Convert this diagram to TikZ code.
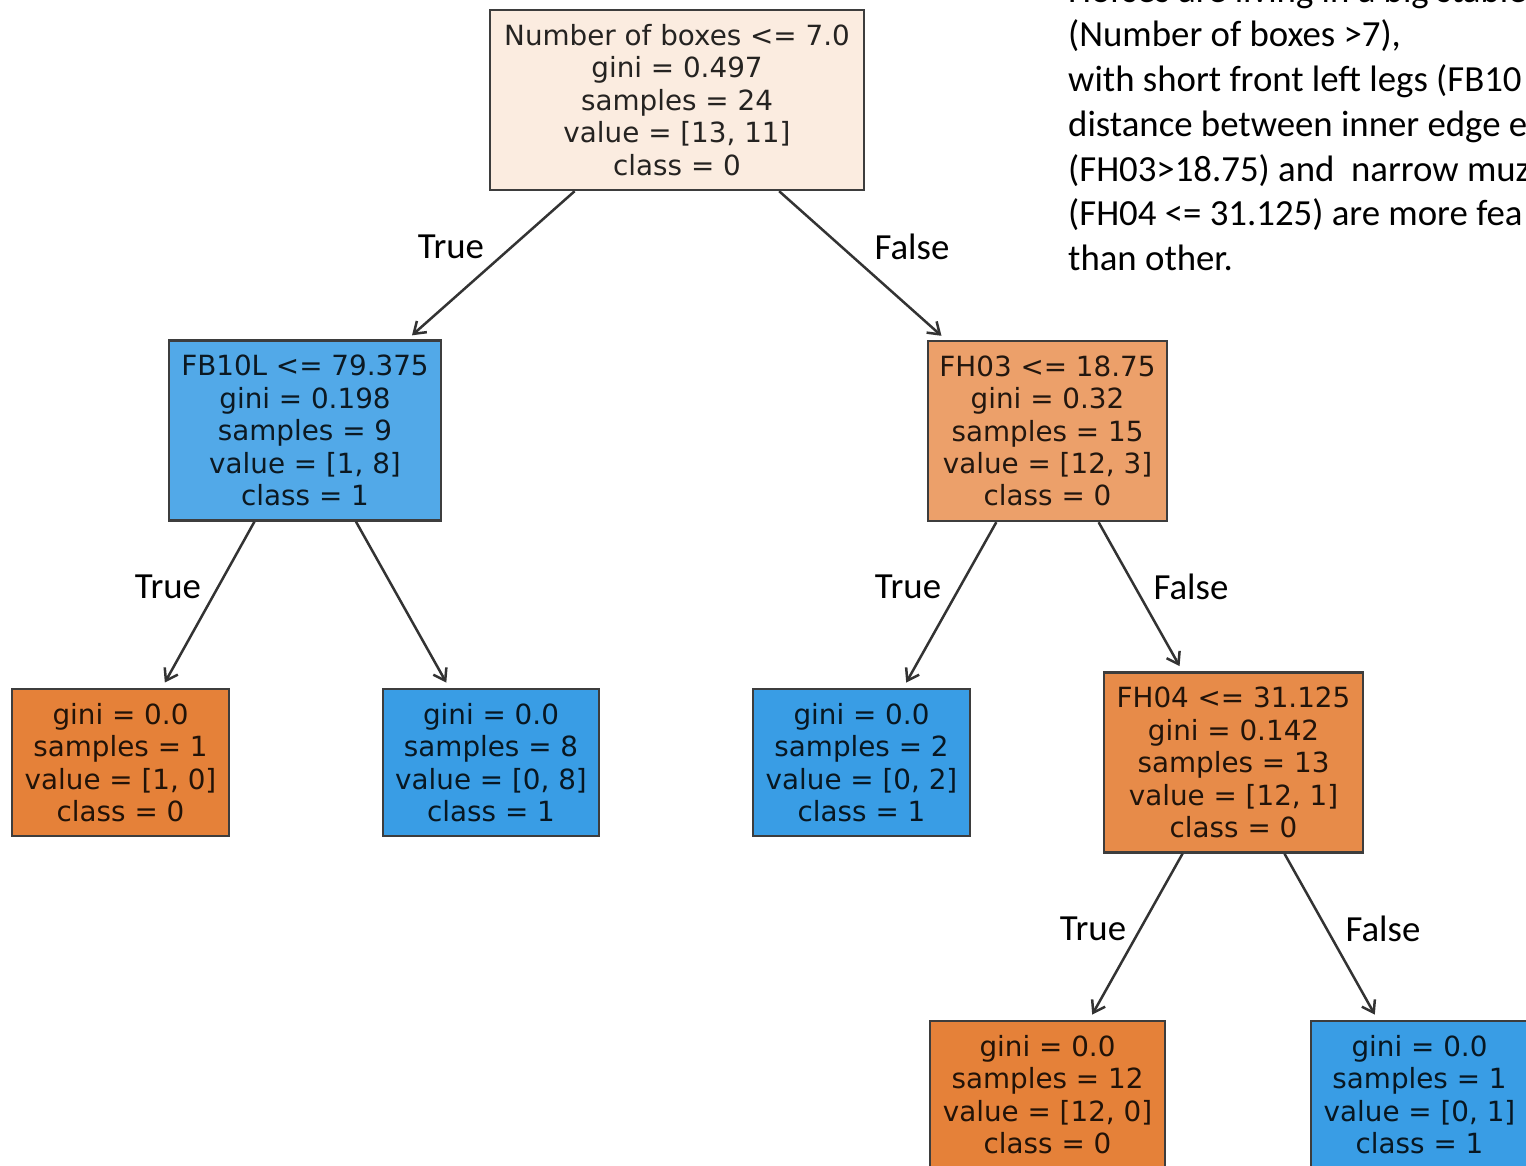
\documentclass[tikz,border=0pt]{standalone}
\usepackage{fontspec}
\setmainfont{Carlito}
\newfontfamily\treefont{DejaVu Sans}
\usetikzlibrary{arrows.meta}

\definecolor{rootfill}{HTML}{FBECE0}
\definecolor{pureorange}{HTML}{E58139}
\definecolor{pureblue}{HTML}{399DE5}
\definecolor{fbfill}{HTML}{52A9E8}
\definecolor{fhfill}{HTML}{ECA06A}
\definecolor{fhfourfill}{HTML}{E78B49}

\begin{document}
\begin{tikzpicture}[x=1pt,y=-1pt,
  treebox/.style={draw=black!76,line width=2.4pt,align=center,inner sep=0pt,
    font=\treefont\fontsize{27.8}{32.4}\selectfont,text opacity=0.85},
  split/.style={treebox,minimum height=180pt},
  leaf/.style={treebox,minimum height=147pt},
  branch/.style={draw=black!80,line width=2.5pt,shorten >=6pt,
    -{Straight Barb[length=11pt,width=15pt,line width=2.5pt]}},
  answer/.style={font=\fontsize{36.8}{44.7}\selectfont}]
\useasboundingbox (0,0) rectangle (1526,1166);
\fill [white] (0,0) rectangle (1526,1166);

\node [split,fill=rootfill,minimum width=374pt] (root) at (677,100)
  {Number of boxes <= 7.0\\gini = 0.497\\samples = 24\\value = [13, 11]\\class = 0};
\node [split,fill=fbfill,minimum width=272pt] (fbten) at (305,430.5)
  {FB10L <= 79.375\\gini = 0.198\\samples = 9\\value = [1, 8]\\class = 1};
\node [split,fill=fhfill,minimum width=239pt] (fhthree) at (1047.5,431)
  {FH03 <= 18.75\\gini = 0.32\\samples = 15\\value = [12, 3]\\class = 0};
\node [split,fill=fhfourfill,minimum width=259pt] (fhfour) at (1233.5,762.5)
  {FH04 <= 31.125\\gini = 0.142\\samples = 13\\value = [12, 1]\\class = 0};

\node [leaf,fill=pureorange,minimum width=217pt] (leafa) at (120.5,762.5)
  {gini = 0.0\\samples = 1\\value = [1, 0]\\class = 0};
\node [leaf,fill=pureblue,minimum width=216pt] (leafb) at (491,762.5)
  {gini = 0.0\\samples = 8\\value = [0, 8]\\class = 1};
\node [leaf,fill=pureblue,minimum width=217pt] (leafc) at (861.5,762.5)
  {gini = 0.0\\samples = 2\\value = [0, 2]\\class = 1};
\node [leaf,fill=pureorange,minimum width=235pt] (leafd) at (1047.5,1094.5)
  {gini = 0.0\\samples = 12\\value = [12, 0]\\class = 0};
\node [leaf,fill=pureblue,minimum width=217pt] (leafe) at (1419.5,1094.5)
  {gini = 0.0\\samples = 1\\value = [0, 1]\\class = 1};

\draw [branch] (root) -- (fbten);
\draw [branch] (root) -- (fhthree);
\draw [branch] (fbten) -- (leafa);
\draw [branch] (fbten) -- (leafb);
\draw [branch] (fhthree) -- (leafc);
\draw [branch] (fhthree) -- (fhfour);
\draw [branch] (fhfour) -- (leafd);
\draw [branch] (fhfour) -- (leafe);

\node [answer] (trueroot) at (451,247) {True};
\node [answer] (falseroot) at (912,247) {False};
\node [answer] (truefb) at (168,587) {True};
\node [answer] (truefh) at (908,587) {True};
\node [answer] (falsefh) at (1191,587) {False};
\node [answer] (truefhfour) at (1093,929) {True};
\node [answer] (falsefhfour) at (1383,929) {False};

\node [answer,align=left,anchor=base west,inner sep=0pt] (summary) at (1068,270.5)
  {Horses are living in a big stable\\(Number of boxes >7),\\with short front left legs (FB10\\
   distance between inner edge e\\(FH03>18.75) and \ narrow muz\\(FH04 <= 31.125) are more fea\\
   than other.};
\end{tikzpicture}
\end{document}
